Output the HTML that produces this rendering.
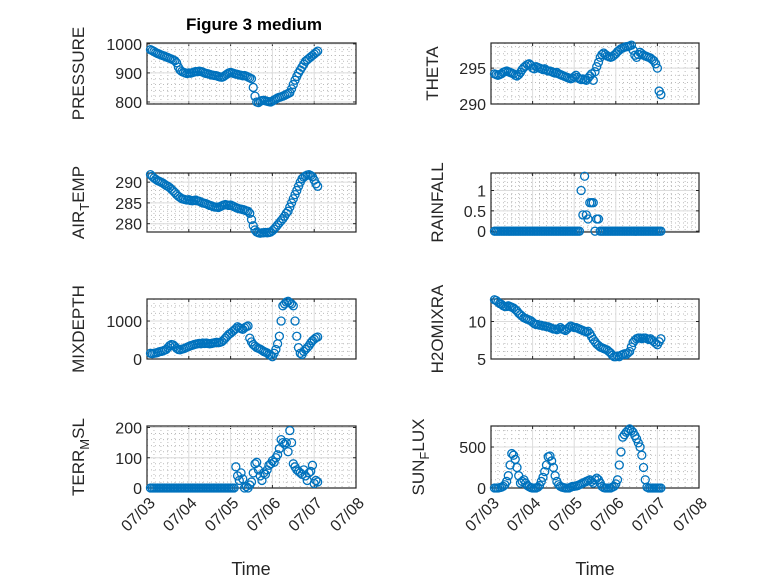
<!DOCTYPE html>
<html><head><meta charset="utf-8">
<style>
html,body{margin:0;padding:0;background:#fff;}
svg{display:block;font-family:"Liberation Sans","DejaVu Sans",sans-serif;}
</style></head>
<body>
<svg id="fig" width="778" height="583" viewBox="0 0 778 583" xmlns="http://www.w3.org/2000/svg">
<rect width="778" height="583" fill="#fff"/>
<text x="254" y="30" font-size="17" font-weight="bold" text-anchor="middle" fill="#000">Figure 3 medium</text>
<text x="251" y="575" font-size="18" text-anchor="middle" fill="#262626">Time</text>
<text x="595" y="575" font-size="18" text-anchor="middle" fill="#262626">Time</text>
</svg>
<script>
const hours = [];
for (let h = 2; h <= 98; h++) hours.push(h);
const dayLabels = ["07/03","07/04","07/05","07/06","07/07","07/08"];

const pressure = [980,977,974,970,967, 965,962,960,958,955,953,
950,948,945,942,935,920,910, 905,902,900,898,900,899,901, 903,905,904,906,905,903,900,
898,897,895,893,892,891,890, 888,886,885,888,892,896,900, 902,900,898,896,895,893,892,
890,891,889,886,883,880,850, 820,800,798,802,805,806,804, 802,801,800,803,807,810,814,
816,818,820,823,826,829,832, 845,860,875,888,900,910,920, 930,940,945,950,955,960,965, 970,975];
const airTemp = [291.8,291.4,291.0,290.7,290.4, 290.2,290.0,289.8,289.5,289.2,289.0,
288.7,288.3,287.9,287.5,287.0,286.6,286.3, 286.0,285.9,285.8,285.7,285.8,285.6,285.5,
285.6,285.7,285.5,285.4,285.2,285.0,284.9, 284.8,284.6,284.4,284.3,284.1,284.0,284.0,
283.9,284.1,284.3,284.5,284.6,284.5,284.4, 284.5,284.3,284.1,283.9,283.7,283.6,283.5,
283.4,283.3,283.1,283.0,282.5,281.0,279.5, 278.5,278.0,277.8,277.7,277.8,277.8,277.9,
277.8,277.9,278.0,278.3,278.7,279.2,279.7, 280.2,280.7,281.2,281.8,282.5,283.0,284.0,
285.0,286.0,287.0,288.0,289.0,290.0,290.8, 291.2,291.5,291.7,291.8,291.6,291.3,290.5, 289.6,289.0];
const theta = [294.2,294.1,294.0,294.1,294.2, 294.4,294.5,294.6,294.5,294.4,294.3,
294.2,294.0,293.9,294.1,294.4,294.8,295.1, 295.3,295.5,295.6,295.4,295.0,294.9,295.2,
295.1,295.0,294.9,294.8,294.9,294.7,294.6, 294.6,294.5,294.4,294.3,294.4,294.2,294.1,
294.0,293.9,293.8,293.7,293.6,293.5,293.6, 293.8,294.0,293.7,293.5,293.4,293.5,293.4,
293.3,293.6,293.9,294.2,293.3,294.5,295.2, 295.8,296.5,296.9,297.1,296.9,296.7,296.6,
296.5,296.6,296.8,297.0,297.3,297.5,297.7, 297.8,297.9,298.0,298.0,298.1,298.2,297.5,
296.8,296.5,296.9,297.2,297.0,296.8,296.7, 296.6,296.5,296.4,296.2,296.0,295.6,295.0, 291.8,291.3];
const rainfall = [0,0,0,0,0, 0,0,0,0,0,0, 0,0,0,0,0,0,0, 0,0,0,0,0,0,0, 0,0,0,0,0,0,0,
0,0,0,0,0,0,0, 0,0,0,0,0,0,0, 0,0,0,0,1.0,0.4,1.35,
0.4,0.3,0.7,0.7,0.7,0,0.3, 0.3,0,0,0,0,0,0, 0,0,0,0,0,0,0, 0,0,0,0,0,0,0,
0,0,0,0,0,0,0, 0,0,0,0,0,0,0, 0,0];
const mixDepth = [150,140,150,160,170, 190,200,210,230,250,300,
350,380,370,330,280,250,240, 260,270,290,310,330,350,360, 380,390,400,410,400,420,410,
420,410,400,410,420,430,440, 430,440,460,500,550,600,650, 680,720,760,800,850,820,800,
780,820,850,870,550,450,380, 340,300,280,260,230,200,180, 160,120,100,60,150,250,400,
600,1000,1400,1450,1500,1520,1480, 1450,1400,1000,600,300,150,120, 200,250,300,350,420,480,520, 560,580];
const h2oMix = [12.9,12.8,12.6,12.4,12.3, 12.1,12.0,12.0,12.1,12.0,11.9,
11.8,11.6,11.4,11.1,10.9,10.7,10.5, 10.4,10.3,10.2,10.1,9.9,9.7,9.6, 9.6,9.5,9.5,9.4,9.4,9.3,9.3,
9.2,9.1,9.0,9.0,8.9,9.0,9.2, 9.0,8.9,8.8,9.0,9.2,9.4,9.3, 9.2,9.2,9.1,9.0,8.9,8.8,8.7,
8.6,8.7,8.4,8.0,7.6,7.3,7.0, 6.8,6.6,6.5,6.4,6.3,6.2,6.0, 5.8,5.5,5.3,5.3,5.4,5.3,5.5,
5.6,5.7,5.6,5.8,6.0,6.6,7.2, 7.5,7.7,7.8,7.8,7.7,7.8,7.8, 7.7,7.6,7.7,7.5,7.3,7.1,6.9, 7.3,7.7];
const terrMsl = [0,0,0,0,0, 0,0,0,0,0,0, 0,0,0,0,0,0,0, 0,0,0,0,0,0,0, 0,0,0,0,0,0,0,
0,0,0,0,0,0,0, 0,0,0,0,0,0,0, 0,0,0,
70,40,25,50,30,0,5,0,10,20,50,80,85,60,40,25,50,45,60,75,80,90,85,100,110,130,160,150,145,150,120,190,150,80,70,60,55,50,45,60,40,25,50,55,75,15,25,20];
const sunFlux = [0,0,0,5,10, 20,40,80,150,280,420,
400,350,250,150,60,80,100, 60,30,15,5,0,0,0, 10,30,80,130,200,280,380,
390,330,250,150,80,40,20, 10,5,0,0,0,10,20, 20,25,30,40,50,60,70,
80,90,100,80,60,100,120, 100,60,20,5,0,0,0, 0,10,20,50,100,280,440,
620,650,680,700,720,700,680, 640,600,550,500,400,250,100, 10,0,0,0,0,0,0, 0,0];

const pressureTicks = [800,900,1000];
const airTempTicks = [280,285,290];
const thetaTicks = [290,295];
const rainTicks = [0,0.5,1];
const mixTicks = [0,1000];
const h2oTicks = [5,10];
const terrTicks = [0,100,200];
const sunTicks = [0,500];

const NS = "http://www.w3.org/2000/svg";
const svg = document.getElementById('fig');
function mk(tag, attrs, parent){
  const e = document.createElementNS(NS, tag);
  for (const k in attrs) e.setAttribute(k, attrs[k]);
  (parent||svg).appendChild(e);
  return e;
}
const panels = [
  {name:'pressure', vals:pressure, ticks:pressureTicks, lo:793, hi:1003, col:0, row:0, label:'PRESSURE', lx:84},
  {name:'theta', vals:theta, ticks:thetaTicks, lo:290, hi:298.5, col:1, row:0, label:'THETA', lx:438},
  {name:'air-temp', vals:airTemp, ticks:airTempTicks, lo:278, hi:292.2, col:0, row:1, label:['AIR','T','EMP'], lx:84},
  {name:'rainfall', vals:rainfall, ticks:rainTicks, lo:-0.02, hi:1.43, col:1, row:1, label:'RAINFALL', lx:443},
  {name:'mix-depth', vals:mixDepth, ticks:mixTicks, lo:0, hi:1580, col:0, row:2, label:'MIXDEPTH', lx:84},
  {name:'h2o-mix', vals:h2oMix, ticks:h2oTicks, lo:5, hi:13, col:1, row:2, label:'H2OMIXRA', lx:443},
  {name:'terr-msl', vals:terrMsl, ticks:terrTicks, lo:0, hi:205, col:0, row:3, label:['TERR','M','SL'], lx:84},
  {name:'sun-flux', vals:sunFlux, ticks:sunTicks, lo:0, hi:756, col:1, row:3, label:['SUN','F','LUX'], lx:424},
];
const cols = [[147,356],[491,699]];
const rows = [[43,104],[173,232],[299,359],[426,488]];

panels.forEach(p=>{
  const [x0,x1] = cols[p.col], [y0,y1] = rows[p.row];
  const g = mk('g', {});
  
  
  const xs = h => x0 + (h/24)/5*(x1-x0);
  const ys = v => y1 - (v-p.lo)/(p.hi-p.lo)*(y1-y0);
  mk('rect',{x:x0,y:y0,width:x1-x0,height:y1-y0,fill:'#fff'},g);
  for (let d=0; d<5; d++) for (let k=1;k<6;k++){
    const x = xs((d+k/6)*24);
    mk('line',{x1:x,x2:x,y1:y0,y2:y1,stroke:'#bbb','stroke-width':1,'stroke-dasharray':'1 3'},g);
  }
  const step = p.ticks[1]-p.ticks[0];
  const ms = step/5;
  for (let v = Math.ceil(p.lo/ms)*ms; v <= p.hi; v += ms){
    const y = ys(v);
    mk('line',{x1:x0,x2:x1,y1:y,y2:y,stroke:'#bbb','stroke-width':1,'stroke-dasharray':'1 3'},g);
  }
  dayLabels.forEach((lab,d)=>{
    const x = xs(d*24);
    mk('line',{x1:x,x2:x,y1:y0,y2:y1,stroke:'#dcdcdc','stroke-width':1},g);
    mk('line',{x1:x,x2:x,y1:y1,y2:y1-3,stroke:'#262626','stroke-width':1},g);
    mk('line',{x1:x,x2:x,y1:y0,y2:y0+3,stroke:'#262626','stroke-width':1},g);
    if (p.row===3){
      const ax = x+9, ay = y1+16;
      const t = mk('text',{x:ax,y:ay,'font-size':16,fill:'#262626','text-anchor':'end',transform:`rotate(-45 ${ax} ${ay})`},g);
      
      
      t.textContent = lab;
    }
  });
  p.ticks.forEach(v=>{
    const y = ys(v);
    mk('line',{x1:x0,x2:x1,y1:y,y2:y,stroke:'#dcdcdc','stroke-width':1},g);
    mk('line',{x1:x0,x2:x0+3,y1:y,y2:y,stroke:'#262626','stroke-width':1},g);
    mk('line',{x1:x1,x2:x1-3,y1:y,y2:y,stroke:'#262626','stroke-width':1},g);
    const t = mk('text',{x:x0-5,y:y+6,'font-size':16,fill:'#262626','text-anchor':'end'},g);
    
    
    t.textContent = String(v);
  });
  mk('rect',{x:x0,y:y0,width:x1-x0,height:y1-y0,fill:'none',stroke:'#262626','stroke-width':1.2},g);
  p.vals.forEach((v,i)=>{
    const c = mk('circle',{cx:xs(hours[i]),cy:ys(v),r:4,fill:'none',stroke:'#0072BD','stroke-width':1.3},g);
    
    
  });
  const cy = (y0+y1)/2;
  const t = mk('text',{x:p.lx,y:cy,'font-size':17,fill:'#262626','text-anchor':'middle',transform:`rotate(-90 ${p.lx} ${cy})`},g);
  
  
  if (Array.isArray(p.label)){
    const a = mk('tspan',{},t); a.textContent = p.label[0];
    const b = mk('tspan',{dy:5,'font-size':13},t); b.textContent = p.label[1];
    const c2 = mk('tspan',{dy:-5},t); c2.textContent = p.label[2];
  } else t.textContent = p.label;
});
</script>
</body></html>
